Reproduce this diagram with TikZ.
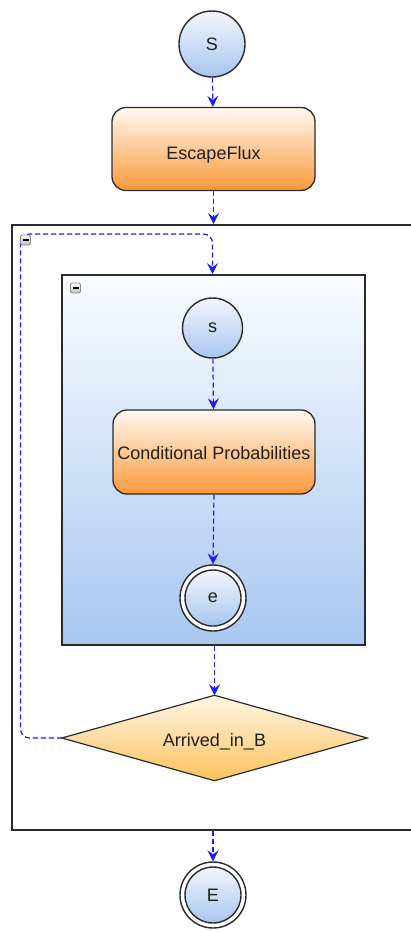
\documentclass[tikz,border=0pt]{standalone}
\usepackage{fontspec}
\setmainfont{Liberation Sans}
\usetikzlibrary{arrows.meta,shapes.geometric,positioning}
\definecolor{edgegray}{HTML}{2B2B2B}
\definecolor{flowblue}{HTML}{1C1CFF}
\definecolor{circtop}{HTML}{F2F6FD}
\definecolor{circbot}{HTML}{A9C6EF}
\definecolor{boxtop}{HTML}{FFF8F0}
\definecolor{boxbot}{HTML}{FC9A3A}
\definecolor{dectop}{HTML}{FFF6E6}
\definecolor{decbot}{HTML}{FDC25C}
\definecolor{grouptop}{HTML}{FAFCFF}
\definecolor{groupbot}{HTML}{A8C7F1}
% lower a label inside its node without changing the node's size
\newcommand\droplabel[2]{\raisebox{-#1}[13pt][4pt]{#2}}
\tikzset{
  txt/.style={font=\fontsize{18}{21}\selectfont, text=black!88},
  startnode/.style={circle, draw=edgegray, line width=1.4pt, minimum size=66pt, inner sep=0pt,
    top color=circtop, bottom color=circbot, txt},
  endouter/.style={circle, draw=edgegray, line width=1.4pt, minimum size=66pt, inner sep=0pt, fill=white},
  endinner/.style={circle, draw=edgegray, line width=1.4pt, minimum size=56pt, inner sep=0pt,
    top color=circtop, bottom color=circbot, txt},
  taskbox/.style={rectangle, rounded corners=14pt, draw=edgegray, line width=1.3pt,
    minimum width=203pt, minimum height=83pt, inner sep=0pt, top color=boxtop, bottom color=boxbot, txt},
  decframe/.style={rectangle, minimum width=305pt, minimum height=85pt, inner sep=0pt, txt},
  decfill/.style={draw=edgegray, line width=1.2pt, line join=miter, top color=dectop, bottom color=decbot},
  loopgroup/.style={rectangle, draw=edgegray, line width=1.6pt, fill=white},
  subgroup/.style={rectangle, draw=edgegray, line width=1.6pt, top color=grouptop, bottom color=groupbot},
  collapse/.style={rectangle, rounded corners=1.5pt, draw=black!45, line width=0.8pt,
    minimum size=10pt, inner sep=0pt, top color=white, bottom color=black!25},
  flow/.style={draw=flowblue, line width=1.2pt, dash pattern=on 5pt off 3pt,
    -{Stealth[length=11pt,width=11pt,inset=4pt]}},
}
\begin{document}
\begin{tikzpicture}[x=1pt,y=-1pt]
\useasboundingbox (0,0) rectangle (410,932);
\fill[white] (0,0) rectangle (410,932);

% top level flow
\node[startnode] (S) at (212,44) {S};
\node[taskbox] (ef) at (213.5,149) {\droplabel{6pt}{EscapeFlux}};

% loop container and nested subprocess
\node[loopgroup, minimum width=410pt, minimum height=605pt, inner sep=0pt] (loop) at (217,527.5) {};
\node[subgroup, minimum width=303pt, minimum height=370pt, inner sep=0pt] (sub) at (213.5,460) {};

\node[startnode, minimum size=60pt] (s) at (212.5,328) {s};
\node[taskbox, minimum width=202pt, minimum height=84pt] (cp) at (214,452) {\droplabel{3pt}{Conditional Probabilities}};
\node[endouter] (eo) at (213,598) {};
\node[endinner] (e) at (213,598) {e};

% decision: diamond drawn through the corners of its frame node
\node[decframe] (decbg) at (214.5,738) {};
\shade[decfill] (decbg.north) -- (decbg.east) -- (decbg.south) -- (decbg.west) -- cycle;
\node[decframe] (dec) at (214.5,738) {\droplabel{4pt}{Arrived\_in\_B}};

\node[endouter] (Eo) at (213,895) {};
\node[endinner] (E) at (213,895) {E};

% connectors
\draw[flow] (S) -- (ef);
\draw[flow] (ef.south) -- (ef.south |- loop.north);
\draw[flow] (s) -- (cp);
\draw[flow] (cp.south) -- (eo.north);
\draw[flow] (sub.south -| dec.north) -- (dec.north);
\draw[flow] (loop.south -| Eo.north) -- (Eo.north);

% loop-back edge from the decision to the subprocess
\coordinate (loopc) at (20.5,234);
\draw[flow, rounded corners=9pt] (dec.west) -| (loopc) -| (sub.north -| s.north);

% collapse markers
\node[collapse] (c1) at (25.5,240) {};
\draw[black, line width=2pt] ([xshift=-3pt]c1.center) -- ([xshift=3pt]c1.center);
\node[collapse] (c2) at (75.5,288) {};
\draw[black, line width=2pt] ([xshift=-3pt]c2.center) -- ([xshift=3pt]c2.center);
\end{tikzpicture}
\end{document}
